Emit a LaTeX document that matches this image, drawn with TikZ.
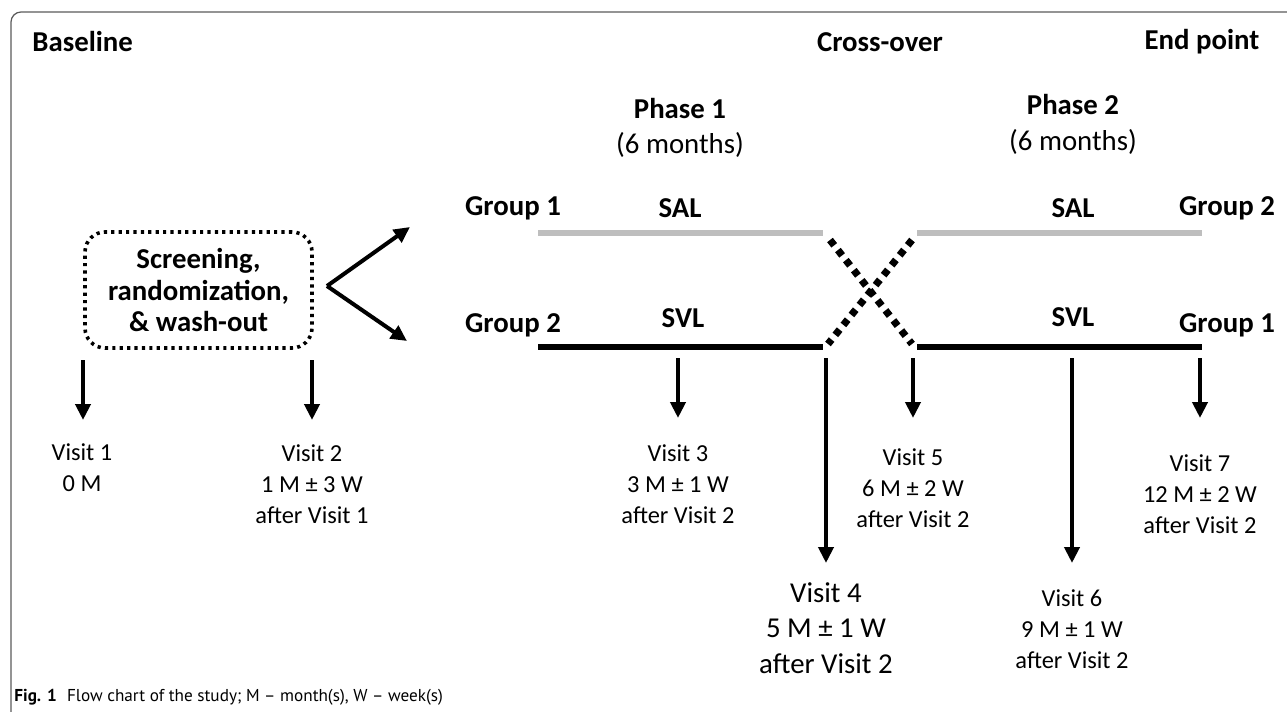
\documentclass[tikz,border=0pt]{standalone}
\usepackage{fontspec}
\setmainfont{Carlito}
\newfontfamily\capfont{PT Sans}
\usepackage{tikz}
\usetikzlibrary{positioning, arrows.meta, calc}
\usepackage{xcolor}
\definecolor{salgray}{RGB}{190,190,190}
\definecolor{framegray}{RGB}{90,90,90}

\begin{document}
\begin{tikzpicture}[x=0.5pt, y=-0.5pt, >={Triangle[width=7.5pt,length=8pt]},
        head/.style={font=\fontsize{14.4}{15.8}\selectfont\bfseries, inner sep=0pt},
        visit/.style={font=\fontsize{12.2}{15.5}\selectfont, align=center, inner sep=0pt},
        bigvisit/.style={font=\fontsize{14.4}{17.6}\selectfont, align=center, inner sep=0pt},
        salline/.style={draw=salgray, line width=2.6pt},
        svlline/.style={draw=black, line width=2.6pt},
        swap/.style={draw=black, line width=3.6pt, dash pattern=on 3.4pt off 3pt},
        vis/.style={->, line width=2.4pt}]
      \useasboundingbox (0,0) rectangle (1287,712);
      % frame
      \draw[framegray, line width=0.6pt, rounded corners=5pt] (1287,12) -- (11,12) -- (11,712);
      % headings
      \node[head, anchor=west] (base) at (32,42) {Baseline};
      \node[head] (cross) at (880,42) {Cross-over};
      \node[head] (endp) at (1202,42) {End point};
      \node[head] (ph1) at (680,108) {Phase 1};
      \node[bigvisit] (ph1t) at (680,145) {(6 months)};
      \node[head] (ph2) at (1073,105) {Phase 2};
      \node[bigvisit] (ph2t) at (1073,142) {(6 months)};
      % screening box
      \node[draw, line width=1.8pt, dash pattern=on 1.6pt off 2.1pt, rounded corners=10pt,
            minimum width=113.5pt, minimum height=58pt, align=center,
            font=\fontsize{14.4}{15.75}\selectfont\bfseries] (screen) at (198.5,290)
            {Screening,\\randomization,\\\& wash-out};
      \coordinate (split) at (327,286);
      \coordinate (g1in) at (410,227);
      \coordinate (g2in) at (407,341);
      \draw[->, line width=2pt] (split) -- (g1in);
      \draw[->, line width=2pt] (split) -- (g2in);
      % groups and treatments
      \node[head] (g1a) at (513,208) {Group 1};
      \node[head] (g2a) at (513,325) {Group 2};
      \node[head] (sal1) at (680,208) {SAL};
      \node[head] (svl1) at (683,318) {SVL};
      \node[head] (sal2) at (1073,208) {SAL};
      \node[head] (svl2) at (1073,317) {SVL};
      \node[head] (g2b) at (1227,208) {Group 2};
      \node[head] (g1b) at (1227,325) {Group 1};
      \coordinate (a1) at (538,233);  \coordinate (a2) at (823,233);
      \coordinate (b1) at (538,347);  \coordinate (b2) at (823,347);
      \coordinate (c1) at (917,233);  \coordinate (c2) at (1202,233);
      \coordinate (d1) at (917,347);  \coordinate (d2) at (1202,347);
      \draw[salline] (a1) -- (a2);
      \draw[svlline] (b1) -- (b2);
      \draw[salline] (c1) -- (c2);
      \draw[svlline] (d1) -- (d2);
      \draw[swap] (830,240) -- (912,344);
      \draw[swap] (912,240) -- (828,344);
      % visits
      \node[visit] (v1) at (82,468) {Visit 1\\0 M};
      \node[visit] (v2) at (312,484) {Visit 2\\1 M ± 3 W\\after Visit 1};
      \node[visit] (v3) at (678,484) {Visit 3\\3 M ± 1 W\\after Visit 2};
      \node[bigvisit] (v4) at (826,628) {Visit 4\\5 M ± 1 W\\after Visit 2};
      \node[visit] (v5) at (913,488) {Visit 5\\6 M ± 2 W\\after Visit 2};
      \node[visit] (v6) at (1072,629) {Visit 6\\9 M ± 1 W\\after Visit 2};
      \node[visit] (v7) at (1200,494) {Visit 7\\12 M ± 2 W\\after Visit 2};
      \foreach \n/\x/\ys/\ye in {1/83/360/420, 2/312/360/420, 3/678/358/418, 4/826/358/563,
                                5/913/358/418, 6/1072/358/563, 7/1200/358/418}{
        \coordinate (s\n) at (\x,\ys);
        \coordinate (e\n) at (\x,\ye);
        \draw[vis] (s\n) -- (e\n);
      }
      % caption
      \node[anchor=west, inner sep=0pt, font=\capfont\fontsize{8.6}{10}\selectfont] (cap) at (14,697)
            {\textbf{Fig. 1}\hspace{0.6em}Flow chart of the study; M – month(s), W – week(s)};
    \end{tikzpicture}
\end{document}
